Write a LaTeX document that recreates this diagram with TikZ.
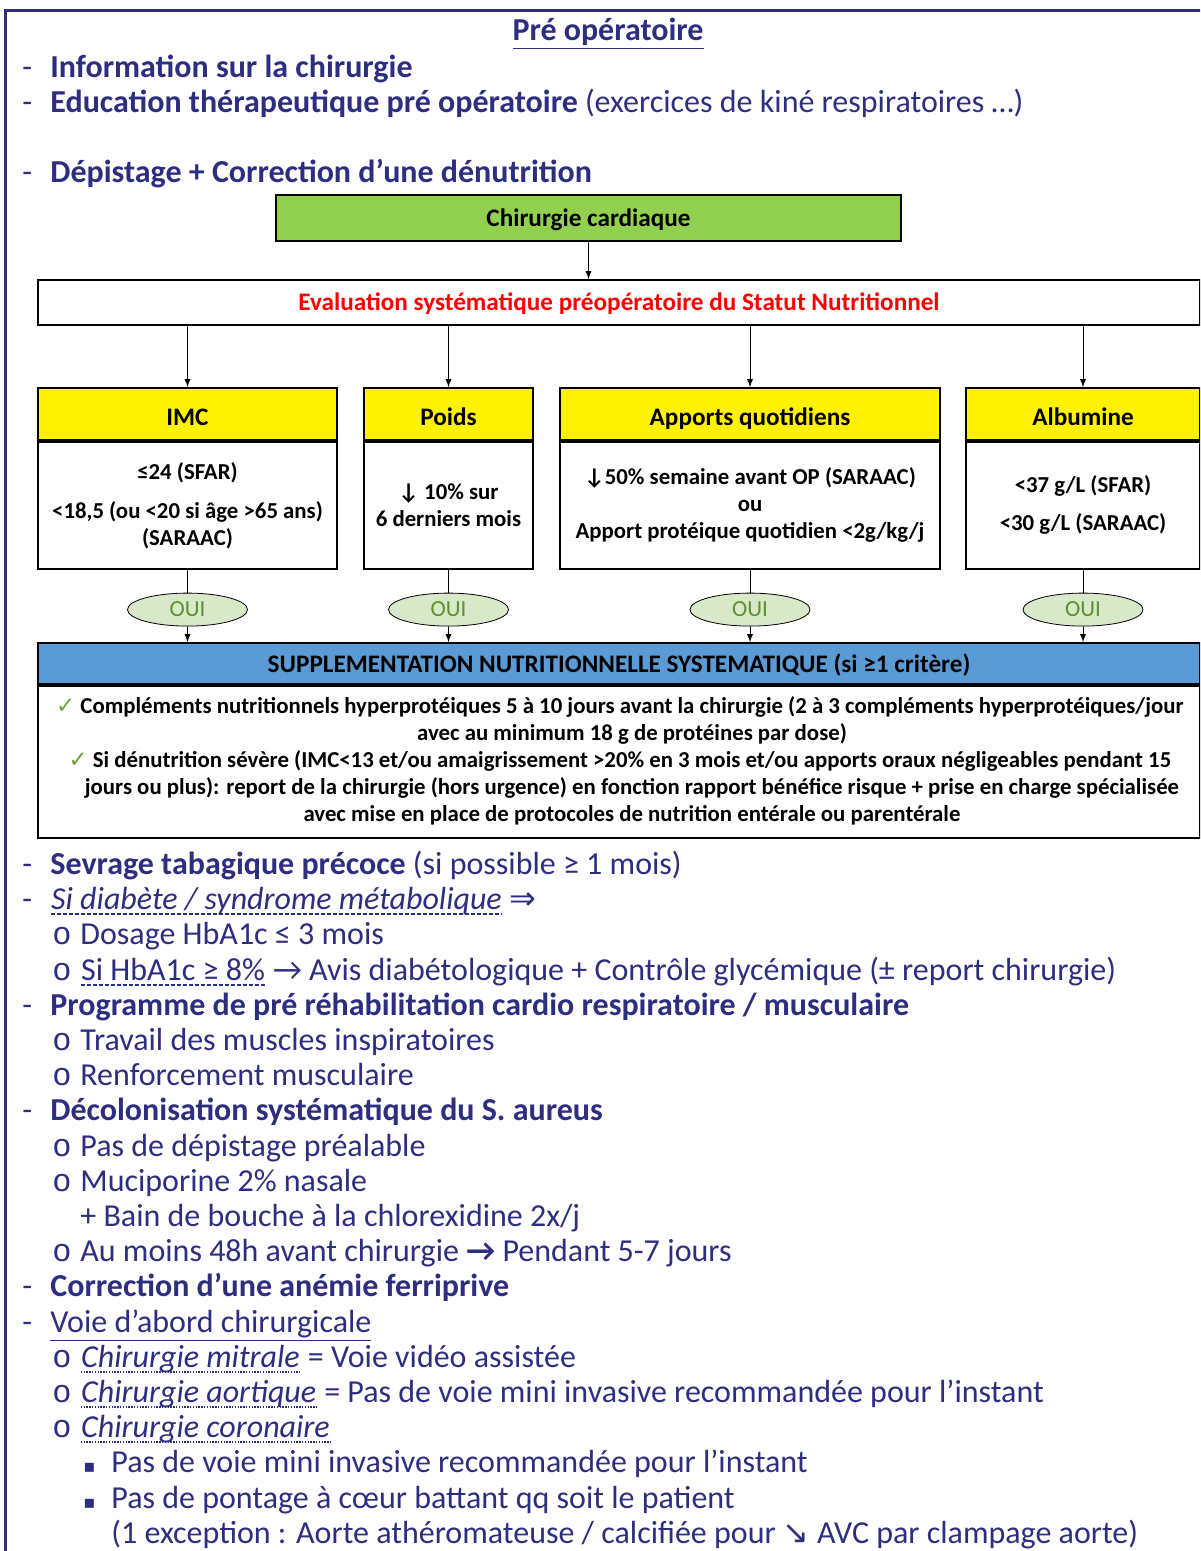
\documentclass[tikz,border=0pt]{standalone}
\usepackage{fontspec}
\setmainfont{Carlito}
\newfontfamily\symfont{DejaVu Sans}
\newfontfamily\bulfont{Liberation Mono}
\usepackage{xcolor}
\usepackage{tikz}
\usetikzlibrary{arrows,positioning,shapes.geometric}
\definecolor{navy}{RGB}{46,46,128}
\definecolor{chirgreen}{HTML}{92D050}
\definecolor{critblue}{HTML}{5B9BD5}
\definecolor{ouifill}{HTML}{D7E9C8}
\definecolor{ouitext}{HTML}{5E8F2E}
\definecolor{chkgreen}{HTML}{6FA33A}
\tikzset{%
	boxhead/.style  = {draw, line width=0.9pt, rectangle, inner sep=0pt, text height=8.5pt, text depth=0pt, font=\bfseries\fontsize{12.6}{15}\selectfont, text centered},
	crit/.style     = {boxhead, fill=yellow, minimum height=26pt, text height=11pt},
	critbody/.style = {draw, line width=0.9pt, rectangle, inner sep=0pt, minimum height=63.5pt, align=center, font=\bfseries\fontsize{11.4}{13.5}\selectfont},
	oui/.style      = {draw, ellipse, fill=ouifill, text=ouitext, minimum width=60pt, minimum height=16.5pt, inner sep=0pt, font=\fontsize{11.5}{13}\selectfont},
	arrow/.style    = {-latex},
	item/.style     = {anchor=base west, inner sep=0pt, text=navy, font=\fontsize{16}{19}\selectfont},
	dashul/.style   = {navy, line width=0.6pt, dash pattern=on 2pt off 1pt},
	dotul/.style    = {navy, line width=0.7pt, dash pattern=on 0.7pt off 0.7pt},
}
\newcommand{\tiret}{\makebox[14pt][l]{-}}
\newcommand{\rond}{\makebox[14pt][l]{\bulfont o}}
\newcommand{\carre}{\makebox[14pt][l]{\symfont\small ▪}}
\newcommand{\chk}{{\symfont\color{chkgreen}✓}}

\begin{document}
\begin{tikzpicture}[x=0.5pt,y=-0.5pt]
	\clip (0,0) rectangle (1200,1551);
	\fill[white] (0,0) rectangle (1200,1551);
	\draw[navy, line width=1.5pt] (5,1560) -- (5,11) -- (1210,11);  % cadre
	
	\node[item, anchor=base] (titre) at (608,41) {\underline{\textbf{Pré opératoire}}};
	\node[item] (l1) at (22,78)  {\tiret\textbf{Information sur la chirurgie}};
	\node[item] (l2) at (22,113) {\tiret\textbf{Education thérapeutique pré opératoire} (exercices de kiné respiratoires …)};
	\node[item] (l3) at (22,183) {\tiret\textbf{Dépistage + Correction d’une dénutrition}};
	
	% arbre de decision
	\node[boxhead, fill=chirgreen, minimum width=312.5pt, minimum height=23pt] (chir) at (588.5,218) {Chirurgie cardiaque};
	\node[boxhead, fill=white, text=red, minimum width=581pt, minimum height=22.5pt] (eval) at (619,302.5) {Evaluation systématique préopératoire du Statut Nutritionnel};
	\draw[arrow] (chir) -- (chir |- eval.north);
	
	\node[crit, minimum width=149.5pt] (imc)     at (187.5,414) {IMC};
	\node[crit, minimum width=84.5pt]  (poids)   at (448.5,414) {Poids};
	\node[crit, minimum width=190pt]   (apports) at (750,414)   {Apports quotidiens};
	\node[crit, minimum width=117pt]   (albu)    at (1083,414)  {Albumine};
	
	\node[critbody, minimum width=149.5pt, below=0pt of imc] (imcb) {≤24 (SFAR)\\[6pt] <18,5 (ou <20 si âge >65 ans)\\ (SARAAC)};
	\node[critbody, minimum width=84.5pt, below=0pt of poids] (poidsb) {↓ 10\% sur\\ 6 derniers mois};
	\node[critbody, minimum width=190pt, below=0pt of apports] (apportsb) {↓50\% semaine avant OP (SARAAC)\\ ou\\ Apport protéique quotidien <2g/kg/j};
	\node[critbody, minimum width=117pt, below=0pt of albu] (albub) {<37 g/L (SFAR)\\[5.5pt] <30 g/L (SARAAC)};
	
	\node[boxhead, fill=critblue, minimum width=581pt, minimum height=20.5pt] (supp) at (619,663.5) {SUPPLEMENTATION NUTRITIONNELLE SYSTEMATIQUE (si ≥1 critère)};
	\node[draw, line width=0.9pt, rectangle, minimum width=581pt, minimum height=76pt, below=0pt of supp] (suppb) {};
	\node[align=center, inner sep=0pt, font=\bfseries\fontsize{11.4}{13.5}\selectfont] (supptxt) at (632,761) {\llap{\chk\ }Compléments nutritionnels hyperprotéiques 5 à 10 jours avant la chirurgie (2 à 3 compléments hyperprotéiques/jour\\ avec au minimum 18 g de protéines par dose)\\ \llap{\chk\ }Si dénutrition sévère (IMC<13 et/ou amaigrissement >20\% en 3 mois et/ou apports oraux négligeables pendant 15\\ jours ou plus): report de la chirurgie (hors urgence) en fonction rapport bénéfice risque + prise en charge spécialisée\\ avec mise en place de protocoles de nutrition entérale ou parentérale};
	
	\foreach \c/\o in {imc/o1,poids/o2,apports/o3,albu/o4}{
		\draw[arrow] (eval.south -| \c.north) -- (\c.north);
		\node[oui, below=11.5pt of \c b] (\o) {OUI};
		\draw (\c b) -- (\o);
		\draw[arrow] (\o) -- (\o |- supp.north);
	}
	
	% suite de la liste
	\node[item] (m1)  at (22,874)  {\tiret\textbf{Sevrage tabagique précoce} (si possible ≥ 1 mois)};
	\node[item] (m2)  at (22,909)  {\tiret};
	\node[item] (m2a) at (m2.base east) {\itshape Si diabète / syndrome métabolique};
	\node[item] (m2b) at (m2a.base east) {\ {\symfont ⇒}};
	\node[item] (m3)  at (52,944)  {\rond Dosage HbA1c ≤ 3 mois};
	\node[item] (m4)  at (52,980)  {\rond};
	\node[item] (m4a) at (m4.base east) {Si HbA1c ≥ 8\%};
	\node[item] (m4b) at (m4a.base east) {\ → Avis diabétologique + Contrôle glycémique (± report chirurgie)};
	\node[item] (m5)  at (22,1015) {\tiret\textbf{Programme de pré réhabilitation cardio respiratoire / musculaire}};
	\node[item] (m6)  at (52,1050) {\rond Travail des muscles inspiratoires};
	\node[item] (m7)  at (52,1085) {\rond Renforcement musculaire};
	\node[item] (m8)  at (22,1120) {\tiret\textbf{Décolonisation systématique du S. aureus}};
	\node[item] (m9)  at (52,1156) {\rond Pas de dépistage préalable};
	\node[item] (m10) at (52,1191) {\rond Muciporine 2\% nasale};
	\node[item] (m11) at (80,1226) {+ Bain de bouche à la chlorexidine 2x/j};
	\node[item] (m12) at (52,1261) {\rond Au moins 48h avant chirurgie \textbf{→} Pendant 5-7 jours};
	\node[item] (m13) at (22,1296) {\tiret\textbf{Correction d’une anémie ferriprive}};
	\node[item] (m14) at (22,1332) {\tiret\underline{Voie d’abord chirurgicale}};
	\node[item] (m15) at (52,1367) {\rond};
	\node[item] (m15a) at (m15.base east) {\itshape Chirurgie mitrale};
	\node[item] (m15b) at (m15a.base east) {\ = Voie vidéo assistée};
	\node[item] (m16) at (52,1402) {\rond};
	\node[item] (m16a) at (m16.base east) {\itshape Chirurgie aortique};
	\node[item] (m16b) at (m16a.base east) {\ = Pas de voie mini invasive recommandée pour l’instant};
	\node[item] (m17) at (52,1437) {\rond};
	\node[item] (m17a) at (m17.base east) {\itshape Chirurgie coronaire};
	\node[item] (m18) at (83,1472) {\carre Pas de voie mini invasive recommandée pour l’instant};
	\node[item] (m19) at (83,1508) {\carre Pas de pontage à cœur battant qq soit le patient};
	\node[item] (m20) at (111,1543) {(1 exception : Aorte athéromateuse / calcifiée pour {\symfont ↘} AVC par clampage aorte)};
	
	% soulignements
	\draw[dashul] ([yshift=-2.5pt]m2a.base west) -- ([yshift=-2.5pt]m2a.base east);
	\draw[dashul] ([yshift=-2.5pt]m4a.base west) -- ([yshift=-2.5pt]m4a.base east);
	\foreach \u in {m15a,m16a,m17a}
		\draw[dotul] ([yshift=-2.5pt]\u.base west) -- ([yshift=-2.5pt]\u.base east);
\end{tikzpicture}
\end{document}
